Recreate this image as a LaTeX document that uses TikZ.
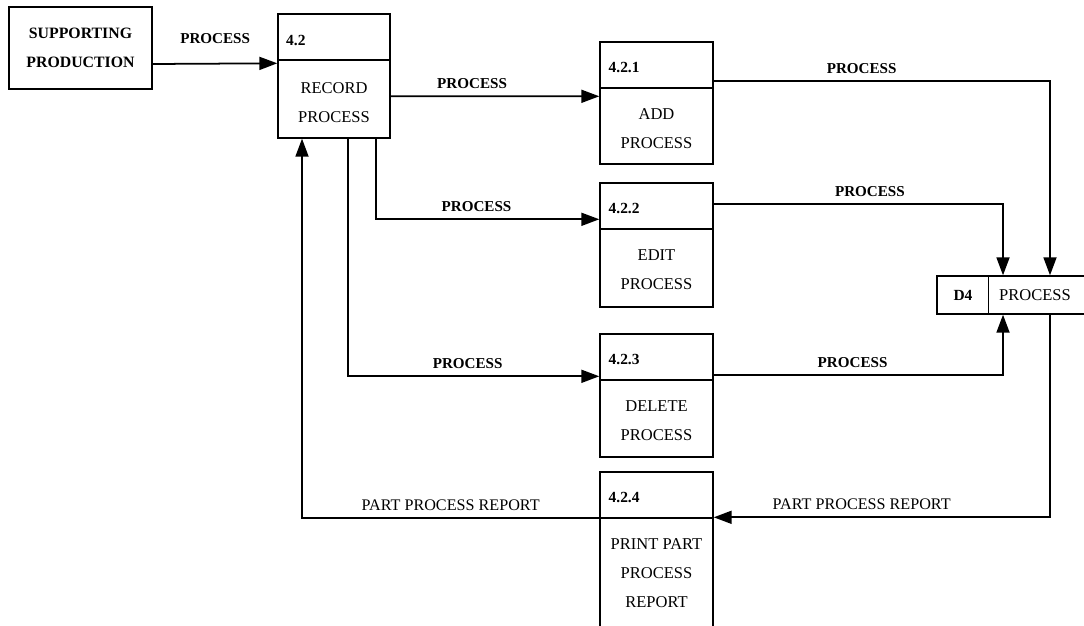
\documentclass[tikz,border=0pt]{standalone}
\usepackage{fontspec}
\setmainfont{Liberation Serif}
\usetikzlibrary{arrows.meta}

\begin{document}
\begin{tikzpicture}[x=0.02cm, y=-0.02cm, >={Triangle[length=3.6mm,width=2.6mm]},
  proc/.style={draw, line width=0.8pt, minimum width=2.26cm, inner sep=0pt},
  flow/.style={->, line width=1pt},
  lbl/.style={font=\bfseries\fontsize{8.6}{10}\selectfont, inner sep=0pt, above=4pt},
  rlbl/.style={font=\fontsize{9.2}{10}\selectfont, inner sep=0pt, above=4pt},
  idtxt/.style={font=\bfseries\fontsize{8.8}{10}\selectfont, anchor=west, inner sep=0pt},
  body/.style={font=\fontsize{9.4}{16.5}\selectfont, align=center, anchor=north, inner sep=0pt}]

\fill[white] (0,0) rectangle (1084,625);
\useasboundingbox (0,0) rectangle (1084,625);

\node[draw, line width=1.2pt, minimum width=2.86cm, minimum height=1.64cm, align=center,
  font=\bfseries\fontsize{9}{16.5}\selectfont] (sp) at (80.5,48) {SUPPORTING\\PRODUCTION};

\node[proc, minimum width=2.24cm, minimum height=2.48cm] (p42) at (334,76) {};
\node[proc, minimum height=2.44cm] (p421) at (656.5,103) {};
\node[proc, minimum height=2.48cm] (p422) at (656.5,245) {};
\node[proc, minimum height=2.46cm] (p423) at (656.5,395.5) {};
\node[proc, minimum height=3.3cm] (p424) at (656.5,554.5) {};
\foreach \p in {p42,p421,p422,p423,p424}{
    \draw[line width=0.8pt] ([yshift=-0.93cm]\p.north west) -- ([yshift=-0.93cm]\p.north east);
}

\node[idtxt] (n42) at ([xshift=0.17cm,yshift=-0.54cm]p42.north west) {4.2};
\node[idtxt] (n421) at ([xshift=0.18cm,yshift=-0.53cm]p421.north west) {4.2.1};
\node[idtxt] (n422) at ([xshift=0.18cm,yshift=-0.53cm]p422.north west) {4.2.2};
\node[idtxt] (n423) at ([xshift=0.18cm,yshift=-0.53cm]p423.north west) {4.2.3};
\node[idtxt] (n424) at ([xshift=0.18cm,yshift=-0.53cm]p424.north west) {4.2.4};

\node[body] (b42) at ([yshift=-1.38cm]p42.north) {RECORD\\PROCESS};
\node[body] (b421) at ([yshift=-1.34cm]p421.north) {ADD\\PROCESS};
\node[body] (b422) at ([yshift=-1.34cm]p422.north) {EDIT\\PROCESS};
\node[body] (b423) at ([yshift=-1.34cm]p423.north) {DELETE\\PROCESS};
\node[body] (b424) at ([yshift=-1.34cm]p424.north) {PRINT PART\\PROCESS\\REPORT};

\node[draw, line width=0.8pt, minimum width=3.06cm, minimum height=0.76cm, inner sep=0pt] (d4) at (1013.5,295) {};
\draw[line width=0.8pt] ([xshift=1.04cm]d4.north west) -- ([xshift=1.04cm]d4.south west);
\node[idtxt, anchor=center] (d4id) at (963,295) {D4};
\node[font=\fontsize{9.4}{10}\selectfont, inner sep=0pt] (d4name) at (1035,295) {PROCESS};

\draw[flow] ([yshift=-0.32cm]sp.east) -- ([yshift=-1.0cm]p42.north west) node[lbl, midway, above=7pt] {PROCESS};
\draw[flow] ([yshift=-1.66cm]p42.north east) -- ([yshift=-1.1cm]p421.north west) node[lbl, pos=0.39] {PROCESS};
\draw[flow] ([xshift=0.84cm]p42.south) |- ([yshift=-0.74cm]p422.north west) node[lbl, pos=0.725] {PROCESS};
\draw[flow] ([xshift=0.28cm]p42.south) |- ([yshift=-0.86cm]p423.north west) node[lbl, pos=0.738] {PROCESS};
\draw[flow] ([yshift=-0.8cm]p421.north east) -| ([xshift=0.73cm]d4.north) node[lbl, pos=0.22] {PROCESS};
\draw[flow] ([yshift=-0.44cm]p422.north east) -| ([xshift=-0.21cm]d4.north) node[lbl, pos=0.27] {PROCESS};
\draw[flow] ([yshift=-0.84cm]p423.north east) -| ([xshift=-0.21cm]d4.south) node[lbl, pos=0.24] {PROCESS};
\draw[flow] ([xshift=0.73cm]d4.south) |- ([yshift=-0.92cm]p424.north east) node[rlbl, pos=0.78] {PART PROCESS REPORT};
\draw[flow] ([yshift=-0.94cm]p424.north west) -| ([xshift=-0.64cm]p42.south) node[rlbl, pos=0.25] {PART PROCESS REPORT};
\end{tikzpicture}
\end{document}
